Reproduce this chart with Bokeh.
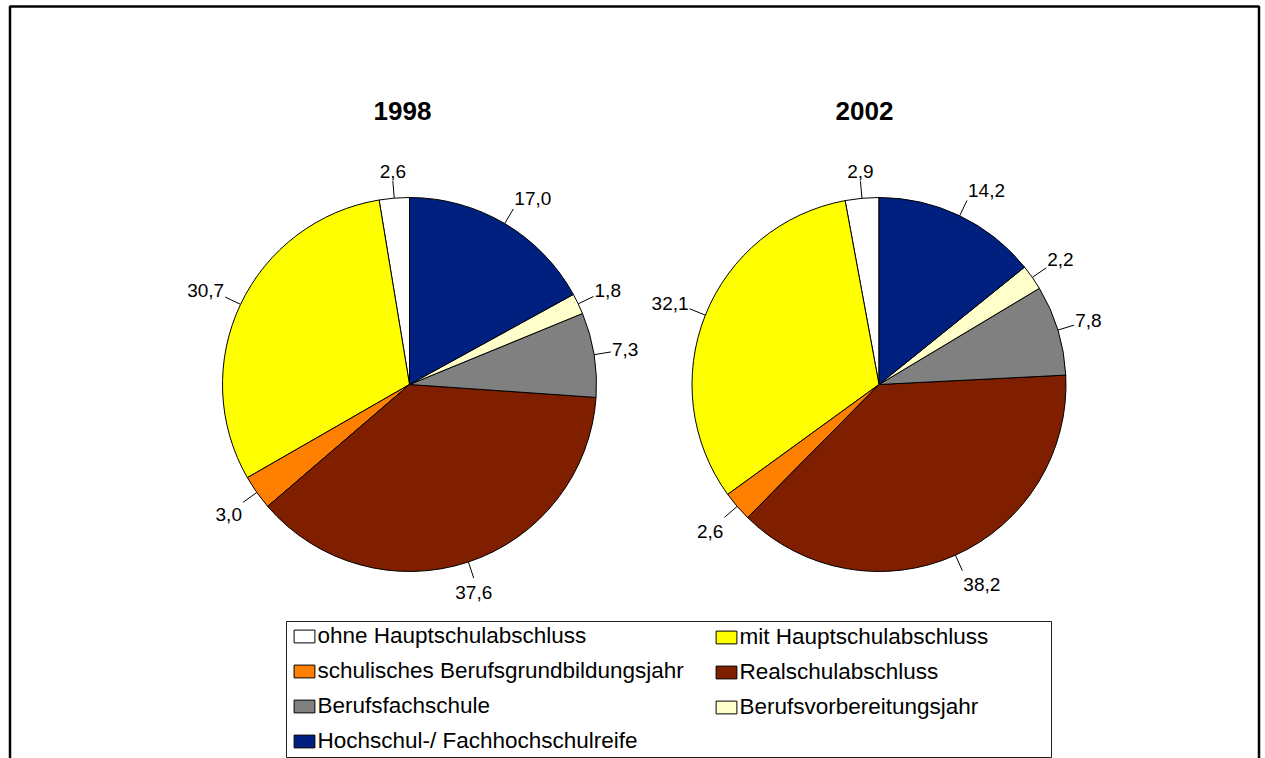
import math
from bokeh.plotting import figure
from bokeh.models import ColumnDataSource, Range1d, Legend, LegendItem
from bokeh.embed import file_html
from bokeh.resources import INLINE
from bokeh.core.properties import value

# ---------------- data ----------------
categories = [
    "ohne Hauptschulabschluss",
    "mit Hauptschulabschluss",
    "schulisches Berufsgrundbildungsjahr",
    "Realschulabschluss",
    "Berufsfachschule",
    "Berufsvorbereitungsjahr",
    "Hochschul-/ Fachhochschulreife",
]
values_1998 = [2.6, 30.7, 3.0, 37.6, 7.3, 1.8, 17.0]
values_2002 = [2.9, 32.1, 2.6, 38.2, 7.8, 2.2, 14.2]
years = ["1998", "2002"]
colors = ["#FFFFFF", "#FFFF00", "#FF8000", "#7F1F00", "#808080", "#FFFFCC", "#002080"]

# ---------------- layout (page pixel coords -> data) ----------------
W, H = 1265, 758


def py(page_y):
    return H - page_y


FONT_NAME = "Liberation Sans"
FONT = value(FONT_NAME)
R = 187
centers = [(409, py(384)), (878.5, py(384))]
title_x = [402, 864]
title_y = py(110)
LABEL_FS = 19

p = figure(width=W, height=H, x_range=Range1d(0, W), y_range=Range1d(0, H),
           output_backend="svg", toolbar_location=None, x_axis_type=None, y_axis_type=None,
           min_border=0, background_fill_color="white", border_fill_color="white")
p.outline_line_color = None
p.grid.visible = False

# outer frame
p.quad(left=[9.5], right=[1258.5], top=[py(6)], bottom=[py(820)],
       fill_color=None, line_color="black", line_width=2.5)


def text_width(s, fs):
    w = 0.0
    for ch in s:
        w += 0.278 if ch in ",." else 0.556
    return w * fs


renderers = []
for (cx, cy), vals, yr, tx in zip(centers, [values_1998, values_2002], years, title_x):
    total = sum(vals)
    starts, ends = [], []
    acc = 0.0
    for v in vals:
        a0 = math.pi / 2 + acc / total * 2 * math.pi
        acc += v
        a1 = math.pi / 2 + acc / total * 2 * math.pi
        starts.append(a0)
        ends.append(a1)
    src = ColumnDataSource(dict(start=starts, end=ends, color=colors, cat=categories, val=vals))
    r = p.wedge(x=cx, y=cy, radius=R, start_angle="start", end_angle="end",
                direction="anticlock", fill_color="color", line_color="black",
                line_width=1, source=src)
    renderers.append(r)

    # labels with leader lines
    x0s, y0s, x1s, y1s, lx, ly, lt = [], [], [], [], [], [], []
    for v, a0, a1 in zip(vals, starts, ends):
        th = (a0 + a1) / 2
        dx, dy = math.cos(th), math.sin(th)
        x0s.append(cx + R * dx)
        y0s.append(cy + R * dy)
        px, pyy = cx + (R + 17) * dx, cy + (R + 17) * dy
        x1s.append(px)
        y1s.append(pyy)
        txt = f"{v:.1f}".replace(".", ",")
        w = text_width(txt, LABEL_FS)
        fx = math.copysign(min(max((abs(dx) - 0.32) / 0.08, 0.0), 1.0), dx)
        if dy >= 0:
            oy = 10 * min(1.0, 1.5 * dy)
        else:
            oy = -14 * min(1.0, 1.5 * -dy)
        lx.append(px + fx * (w / 2 + 1))
        ly.append(pyy + oy)
        lt.append(txt)
    p.segment(x0=x0s, y0=y0s, x1=x1s, y1=y1s, line_color="black", line_width=1)
    p.text(x=lx, y=ly, text=lt, text_align="center", text_baseline="middle",
           text_font=FONT, text_font_size=f"{LABEL_FS}px", text_color="black")

    # title
    p.text(x=[tx], y=[title_y], text=[yr], text_align="center",
           text_baseline="middle", text_font=FONT, text_font_size="26px",
           text_font_style="bold", text_color="black")

# legend box
p.quad(left=[286], right=[1051], top=[py(621)], bottom=[py(757)],
       fill_color="white", line_color="#202020", line_width=1)

left_idx = [0, 2, 4, 6]
right_idx = [1, 3, 5]

PAD = 5
GW, GH = 26, 16
LH, SP = 25, 9


def make_legend(idxs, marker_left, row1_center):
    items = [LegendItem(label=categories[i], renderers=[renderers[0]], index=i) for i in idxs]
    n = len(idxs)
    height = 2 * PAD + n * LH + (n - 1) * SP
    top = row1_center - LH / 2 - PAD
    bottom = top + height
    vx = marker_left - 0.1 * GW - PAD
    vy = H - bottom
    lg = Legend(items=items, location=(vx, vy), orientation="vertical",
                label_text_font=FONT_NAME, label_text_font_size="22.5px",
                label_text_color="black", label_height=LH, glyph_height=GH,
                glyph_width=GW, label_standoff=0, spacing=SP, padding=PAD, margin=0,
                border_line_color=None, background_fill_alpha=0.0)
    return lg


p.add_layout(make_legend(left_idx, 299, 634))
p.add_layout(make_legend(right_idx, 721, 634))

open("out.html", "w").write(file_html(p, INLINE))
